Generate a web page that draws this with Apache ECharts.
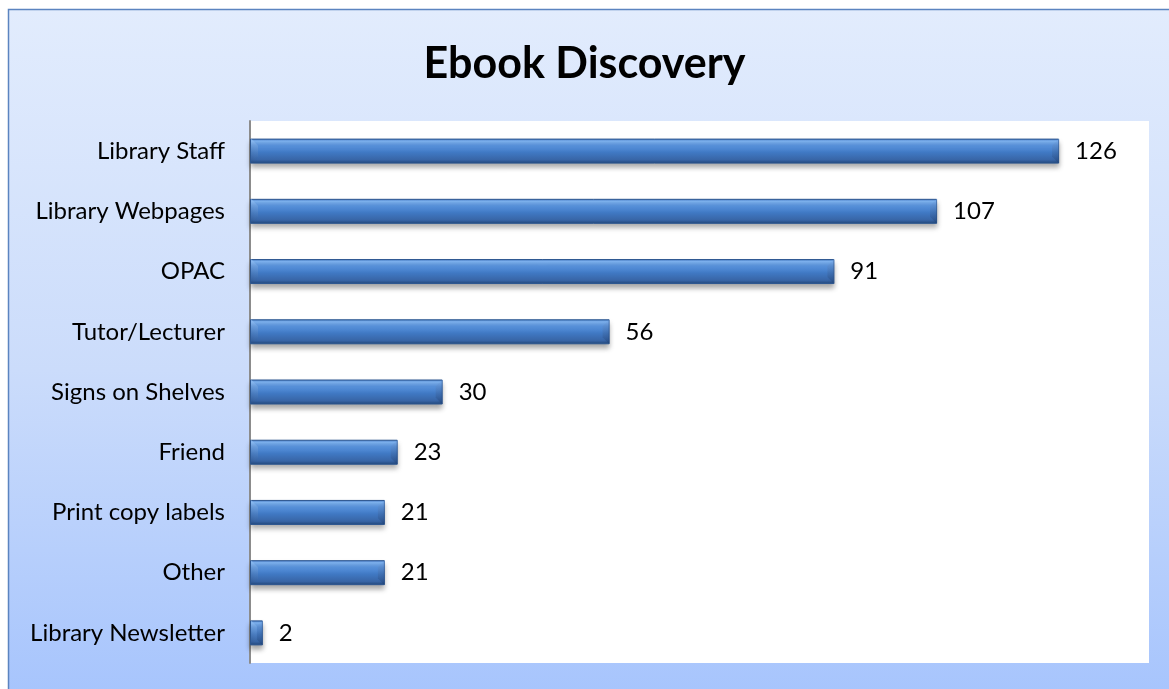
<!DOCTYPE html>
<html>
<head>
<meta charset="utf-8">
<title>Ebook Discovery</title>
<script src="https://cdn.jsdelivr.net/npm/echarts@6/dist/echarts.min.js"></script>
<style>
  html, body { margin: 0; padding: 0; background: #ffffff; }
  #chart { width: 1169px; height: 689px; }
</style>
</head>
<body>
<div id="chart"></div>
<script>
// Ways respondents found out about ebooks
const categories = [
  'Library Staff', 'Library Webpages', 'OPAC', 'Tutor/Lecturer',
  'Signs on Shelves', 'Friend', 'Print copy labels', 'Other', 'Library Newsletter'
];
const responses = [126, 107, 91, 56, 30, 23, 21, 21, 2];
const axisMax = 140;

const FONT = 'Lato, "Open Sans", sans-serif';
const BAR_H = 25;

const chart = echarts.init(document.getElementById('chart'), null, { renderer: 'canvas' });

const barFill = new echarts.graphic.LinearGradient(0, 0, 0, 1, [
  { offset: 0.00, color: '#3f74c0' },
  { offset: 0.10, color: '#82b8f7' },
  { offset: 0.28, color: '#5a95e0' },
  { offset: 0.55, color: '#4079c4' },
  { offset: 0.85, color: '#3865a6' },
  { offset: 1.00, color: '#22477a' }
]);

// Chamfered ends drawn over each bar, positioned from the same values
function renderBevel(params, api) {
  const idx = api.value(0);
  const val = api.value(1);
  const start = api.coord([0, idx]);
  const end = api.coord([val, idx]);
  const y0 = start[1] - BAR_H / 2;
  const y1 = start[1] + BAR_H / 2;
  const x0 = start[0] + 1;
  const x1 = end[0];
  const d = Math.min(7, (x1 - x0) / 2);
  return {
    type: 'group',
    children: [
      {
        type: 'polygon',
        shape: { points: [[x0, y0], [x0 + d, y0 + d], [x0 + d, y1 - d], [x0, y1]] },
        style: {
          fill: new echarts.graphic.LinearGradient(0, 0, 0, 1, [
            { offset: 0, color: 'rgba(160,205,255,0.55)' },
            { offset: 1, color: 'rgba(40,80,140,0.25)' }
          ])
        }
      },
      {
        type: 'polygon',
        shape: { points: [[x1, y0], [x1 - d, y0 + d], [x1 - d, y1 - d], [x1, y1]] },
        style: {
          fill: new echarts.graphic.LinearGradient(0, 0, 0, 1, [
            { offset: 0, color: 'rgba(120,170,235,0.45)' },
            { offset: 1, color: 'rgba(20,50,100,0.35)' }
          ])
        }
      }
    ]
  };
}

chart.setOption({
  animation: false,
  graphic: [
    {
      type: 'rect',
      z: -10,
      shape: { x: 8.5, y: 9.5, width: 1200, height: 720 },
      style: {
        fill: new echarts.graphic.LinearGradient(0, 0, 0, 1, [
          { offset: 0, color: '#e2ecfd' },
          { offset: 0.5, color: '#cbdcfb' },
          { offset: 1, color: '#a3c2fd' }
        ]),
        stroke: '#5b84c0',
        lineWidth: 1.5
      }
    },
    {
      type: 'rect',
      z: -9,
      shape: { x: 250, y: 121, width: 899, height: 542 },
      style: { fill: '#ffffff' }
    }
  ],
  title: {
    text: 'Ebook Discovery',
    left: 'center',
    top: 38,
    textStyle: { fontFamily: FONT, fontSize: 43, fontWeight: 'bold', color: '#000000' }
  },
  grid: { left: 250, right: 20, top: 121, bottom: 26, containLabel: false },
  xAxis: {
    type: 'value',
    min: 0,
    max: axisMax,
    show: false,
    splitLine: { show: false }
  },
  yAxis: {
    type: 'category',
    inverse: true,
    data: categories,
    axisLine: { show: true, lineStyle: { color: '#8c8c8c', width: 2 } },
    axisTick: { show: false },
    axisLabel: { fontFamily: FONT, fontSize: 24, color: '#000000', margin: 25 }
  },
  series: [
    {
      type: 'bar',
      data: responses,
      barWidth: BAR_H,
      itemStyle: {
        color: barFill,
        borderColor: '#2c5690',
        borderWidth: 1,
        shadowColor: 'rgba(0,0,0,0.35)',
        shadowBlur: 5,
        shadowOffsetY: 4
      },
      label: {
        show: true,
        position: 'right',
        distance: 16,
        fontFamily: FONT,
        fontSize: 24,
        color: '#000000'
      }
    },
    {
      type: 'custom',
      renderItem: renderBevel,
      data: responses.map((v, i) => [i, v]),
      encode: { x: 1, y: 0 },
      silent: true,
      z: 3
    }
  ]
});
</script>
</body>
</html>
